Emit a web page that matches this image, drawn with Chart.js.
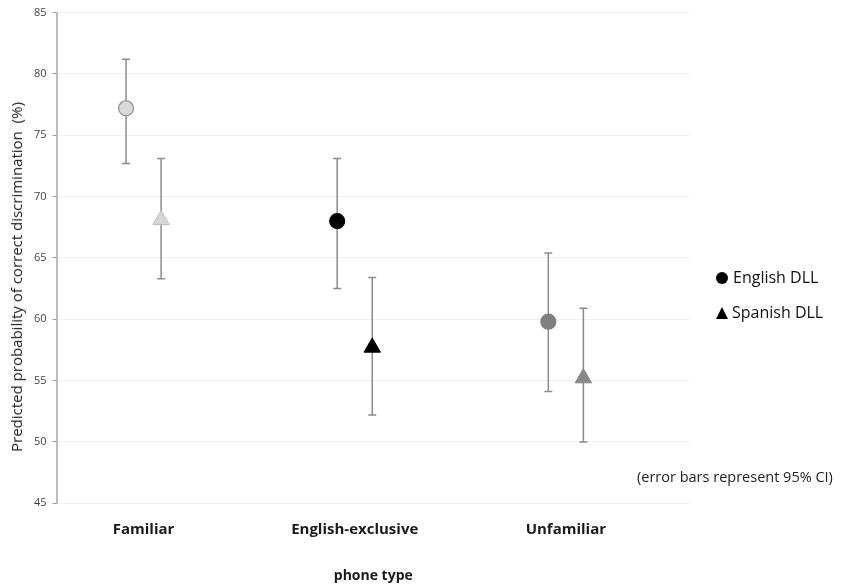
<!DOCTYPE html>
<html>
<head>
<meta charset="utf-8">
<script src="https://cdn.jsdelivr.net/npm/chart.js@4"></script>
<style>
  body { margin: 0; background: #fff; font-family: "Open Sans", sans-serif; }
  #wrap { position: relative; width: 844px; height: 584px; }
  #legend { position: absolute; left: 716px; top: 260px; font-size: 16px; color: #111; line-height: 35px; }
  #legend .row { display: flex; align-items: center; height: 35px; }
  #legend .dot { width: 12px; height: 12px; border-radius: 50%; background: #000; margin-right: 5px; }
  #legend .tri { width: 0; height: 0; border-left: 6.5px solid transparent; border-right: 6.5px solid transparent; border-bottom: 12px solid #000; margin-right: 4px; }
  #note { position: absolute; left: 637px; top: 467px; font-size: 14.5px; line-height: 19px; color: #222; white-space: nowrap; }
  #ytitle { position: absolute; left: 16px; top: 277px; transform: translate(-50%, -50%) rotate(-90deg); font-size: 15px; color: #222; white-space: pre; }
</style>
</head>
<body>
<div id="wrap">
  <canvas id="js--chart" width="844" height="584"></canvas>
  <div id="ytitle">Predicted probability of correct discrimination  (%)</div>
  <div id="legend">
    <div class="row"><span class="dot"></span>English DLL</div>
    <div class="row"><span class="tri"></span>Spanish DLL</div>
  </div>
  <div id="note">(error bars represent 95% CI)</div>
</div>
<script>
const categories = ["Familiar", "English-exclusive", "Unfamiliar"]

// point estimates and 95% CI
const englishDLL = [77.2, 68.0, 59.8]
const englishLow = [72.7, 62.5, 54.1]
const englishHigh = [81.2, 73.1, 65.4]

const spanishDLL = [68.1, 57.7, 55.2]
const spanishLow = [63.3, 52.2, 50.0]
const spanishHigh = [73.1, 63.4, 60.9]

const yTicks = [45, 50, 55, 60, 65, 70, 75, 80, 85]

const circleFill = ["#d9d9d9", "#000000", "#808080"]
const circleBorder = ["#8a8a8a", "#000000", "#808080"]
const triFill = ["#d6d6d6", "#000000", "#888888"]
const triBorder = ["#bdbdbd", "#000000", "#888888"]

const offset = 0.083

const errorBars = {
    id: "errorBars",
    beforeDatasetsDraw(chart) {
        const ctx = chart.ctx
        const x = chart.scales.x
        const y = chart.scales.y
        const draw = (i, dx, lo, hi) => {
            const px = x.getPixelForValue(i + dx)
            const top = y.getPixelForValue(hi)
            const bot = y.getPixelForValue(lo)
            ctx.save()
            ctx.strokeStyle = "#8c8c8c"
            ctx.lineWidth = 1.5
            ctx.beginPath()
            ctx.moveTo(px, top); ctx.lineTo(px, bot)
            ctx.moveTo(px - 4, top); ctx.lineTo(px + 4, top)
            ctx.moveTo(px - 4, bot); ctx.lineTo(px + 4, bot)
            ctx.stroke()
            ctx.restore()
        }
        categories.forEach((c, i) => {
            draw(i, -offset, englishLow[i], englishHigh[i])
            draw(i, offset, spanishLow[i], spanishHigh[i])
        })
    }
}

const data = {
    datasets: [
        {
            label: "English DLL",
            data: englishDLL.map((v, i) => ({ x: i - offset, y: v })),
            pointStyle: "circle",
            pointRadius: 7.5,
            pointBackgroundColor: circleFill,
            pointBorderColor: circleBorder,
            pointBorderWidth: 1.2,
            showLine: false
        },
        {
            label: "Spanish DLL",
            data: spanishDLL.map((v, i) => ({ x: i + offset, y: v })),
            pointStyle: "triangle",
            pointRadius: 9.5,
            pointBackgroundColor: triFill,
            pointBorderColor: triBorder,
            pointBorderWidth: 1,
            showLine: false
        }
    ]
}

const config = {
    type: "scatter",
    data: data,
    options: {
        responsive: false,
        animation: false,
        layout: { padding: { top: 6, right: 154, left: 28, bottom: 0 } },
        plugins: {
            legend: { display: false },
            tooltip: { enabled: false }
        },
        scales: {
            x: {
                type: "linear",
                min: -0.412,
                max: 2.588,
                afterBuildTicks: axis => { axis.ticks = categories.map((c, i) => ({ value: i })) },
                ticks: {
                    callback: v => categories[v],
                    color: "#1a1a1a",
                    font: { family: "Open Sans", size: 15, weight: "bold" },
                    padding: 10
                },
                grid: { display: false },
                border: { display: false },
                title: {
                    display: true,
                    text: "phone type",
                    color: "#1a1a1a",
                    font: { family: "Open Sans", size: 14, weight: "bold" },
                    padding: { top: 18, bottom: 0 }
                }
            },
            y: {
                min: 45,
                max: 85,
                afterBuildTicks: axis => { axis.ticks = yTicks.map(v => ({ value: v })) },
                ticks: {
                    color: "#444",
                    font: { family: "Open Sans", size: 11 },
                    padding: 6
                },
                grid: { color: "#f0f0f0", lineWidth: 1, tickLength: 4, tickColor: "#999" },
                border: { color: "#bbbbbb", width: 2 }
            }
        }
    },
    plugins: [errorBars]
}

new Chart(document.getElementById("js--chart"), config)
</script>
</body>
</html>
